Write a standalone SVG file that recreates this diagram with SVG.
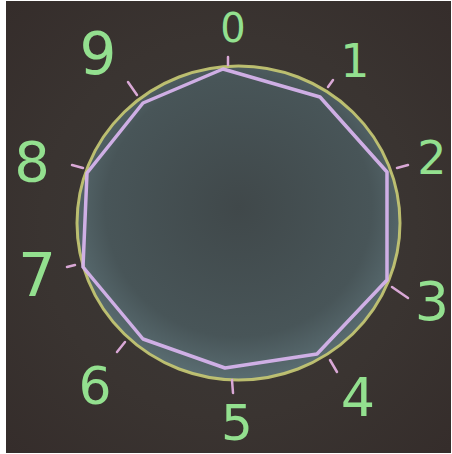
<svg xmlns="http://www.w3.org/2000/svg" width="452" height="454" viewBox="0 0 452 454">
<defs>
<radialGradient id="bg" cx="0.5" cy="0.5" r="0.7">
<stop offset="0" stop-color="#3b3a38"/>
<stop offset="0.6" stop-color="#3a3431"/>
<stop offset="1" stop-color="#352d2b"/>
</radialGradient>
<radialGradient id="haze" cx="0.5" cy="0.45" r="0.55">
<stop offset="0" stop-color="#40484a"/>
<stop offset="0.75" stop-color="#485558"/>
<stop offset="1" stop-color="#5a6d72"/>
</radialGradient>
<style>
.num{font-family:"DejaVu Sans","Liberation Sans",sans-serif;fill:#93e08f;text-anchor:middle;font-weight:normal}
.tick{stroke:#d9a8d6;stroke-width:2.5;stroke-linecap:round;fill:none}
</style>
</defs>
<rect x="0" y="0" width="452" height="454" fill="#ffffff"/>
<rect x="6" y="1" width="445" height="452" fill="url(#bg)"/>
<g id="circle">
<ellipse cx="238.5" cy="223" rx="161.5" ry="157" fill="url(#haze)"/>
<ellipse cx="238.5" cy="223" rx="161.5" ry="157" fill="none" stroke="#c9cb74" stroke-width="3" opacity="0.9"/>
</g>
<g id="decagon">
<polygon points="223,69 320,97 387,172 387,280 317,354 225,368 143,339 83,267 87,173 143,103" fill="none" stroke="#d6b3ec" stroke-width="3.5" stroke-linejoin="round" opacity="0.95"/>
</g>
<g id="ticks">
<line class="tick" x1="228" y1="57" x2="228" y2="65"/>
<line class="tick" x1="328" y1="87" x2="333" y2="80"/>
<line class="tick" x1="397" y1="168" x2="408" y2="165"/>
<line class="tick" x1="392" y1="287" x2="408" y2="298"/>
<line class="tick" x1="330" y1="360" x2="337" y2="372"/>
<line class="tick" x1="232" y1="380" x2="233" y2="393"/>
<line class="tick" x1="125" y1="342" x2="117" y2="352"/>
<line class="tick" x1="75" y1="265" x2="67" y2="267"/>
<line class="tick" x1="72" y1="165" x2="83" y2="168"/>
<line class="tick" x1="128" y1="82" x2="137" y2="95"/>
</g>
<g id="labels">
<text id="n0" class="num" x="233" y="42" font-size="40">0</text>
<text id="n1" class="num" x="355" y="77" font-size="46">1</text>
<text id="n2" class="num" x="432" y="174" font-size="46">2</text>
<text id="n3" class="num" x="432" y="320" font-size="54">3</text>
<text id="n4" class="num" x="358" y="416" font-size="54">4</text>
<text id="n5" class="num" x="237" y="440" font-size="50">5</text>
<text id="n6" class="num" x="95" y="404" font-size="52">6</text>
<text id="n7" class="num" x="37" y="296" font-size="60">7</text>
<text id="n8" class="num" x="32" y="181" font-size="56">8</text>
<text id="n9" class="num" x="98" y="74" font-size="58">9</text>
</g>
</svg>
